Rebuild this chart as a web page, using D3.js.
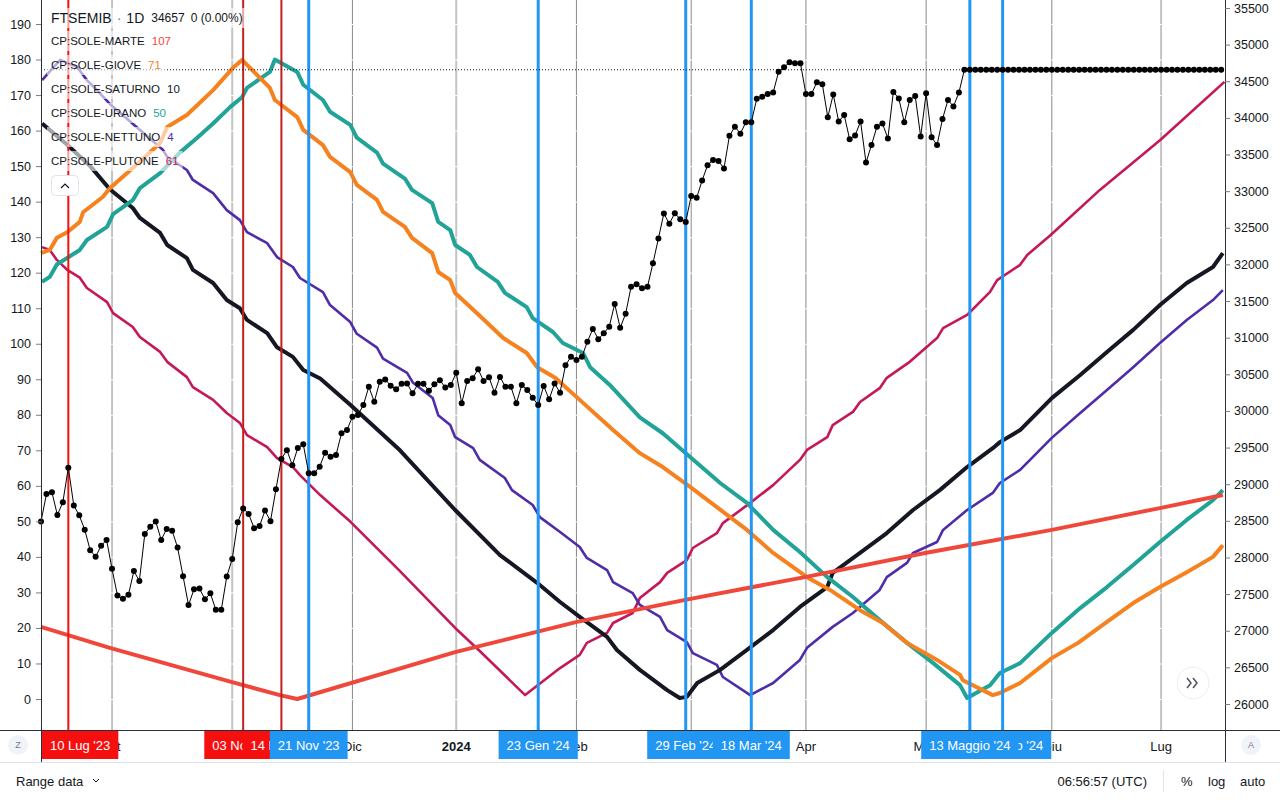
<!DOCTYPE html>
<html>
<head>
<meta charset="utf-8">
<script src="https://cdn.jsdelivr.net/npm/d3@7"></script>
<style>
  body { margin: 0; background: #fff; }
  svg { display: block; font-family: 'Liberation Sans', Arial, sans-serif; }
</style>
</head>
<body>
<svg id="chart" width="1280" height="800"></svg>
<script>
// ---- DATA ----
// x is the bar index (one bar per trading day), 0 = first bar on the chart
const monthBars   = [13, 35, 57, 76, 98, 119, 140, 162, 185, 205];
const monthLabels = ['Ott', 'Nov', 'Dic', '2024', 'Feb', 'Mar', 'Apr', 'Mag', 'Giu', 'Lug'];
const monthLight  = [false, true, false, true, false, false, false, false, false, true];

const degTicks   = [0, 10, 20, 30, 40, 50, 60, 70, 80, 90, 100, 110, 120, 130, 140, 150, 160, 170, 180, 190];
const priceTicks = [26000, 26500, 27000, 27500, 28000, 28500, 29000, 29500, 30000, 30500, 31000,
                    31500, 32000, 32500, 33000, 33500, 34000, 34500, 35000, 35500];

// vertical date lines (drawing order = stacking order of the labels)
const markerBars   = [5, 37, 44, 49, 91, 118, 130, 176, 170];
const markerLabels = ["10 Lug '23", "03 Nov '23", "14 Nov '23", "21 Nov '23", "23 Gen '24",
                      "29 Feb '24", "18 Mar '24", "21 Maggio '24", "13 Maggio '24"];
const markerKind   = ['red', 'darkred', 'darkred', 'blue', 'blue', 'blue', 'blue', 'blue', 'blue'];

// FTSEMIB daily close
const closes = [
  28490, 28865, 28890, 28580, 28755, 29225, 28710, 28575, 28380, 28100,
  28010, 28160, 28240, 27845, 27480, 27435, 27490, 27815, 27680, 28320,
  28420, 28490, 28240, 28390, 28365, 28135, 27745, 27350, 27565, 27575,
  27430, 27510, 27285, 27285, 27740, 27980, 28480, 28670, 28595, 28400,
  28430, 28640, 28495, 28930, 29345, 29465, 29260, 29495, 29545, 29150,
  29150, 29240,
  29430, 29375, 29400, 29695, 29740, 29920, 29945, 30080, 30330, 30125,
  30400, 30430, 30345, 30295, 30370, 30375, 30240, 30370, 30370, 30275,
  30365, 30420, 30320, 30355, 30520, 30105, 30410, 30445, 30570, 30410,
  30460, 30250, 30465, 30330, 30330, 30105, 30355, 30285, 30180, 30080,
  30340, 30160, 30375, 30250, 30625, 30740, 30695, 30740, 30945,
  31120, 30980, 31060, 31150, 31460, 31135, 31325, 31695, 31730, 31675,
  31695, 32015, 32355, 32695, 32555, 32700, 32615, 32580, 32935, 32910,
  33145, 33355, 33425, 33410, 33310, 33755, 33880, 33785, 33940, 33940,
  34260, 34290, 34325, 34345, 34630, 34690, 34760, 34745, 34745, 34325,
  34325, 34485, 34460, 34010, 34320, 33950, 34040, 33710, 33760, 33950,
  33390, 33630, 33880, 33925, 33720, 34355, 34265, 33940, 34245, 34300,
  33745, 34335, 33735, 33630, 33985, 34245, 34155, 34345, 34657
];
// bars after the last session repeat the last close
const projectedCloses = [
  34657, 34657, 34657, 34657, 34657, 34657, 34657, 34657, 34657, 34657,
  34657, 34657, 34657, 34657, 34657, 34657, 34657, 34657, 34657, 34657,
  34657, 34657, 34657, 34657, 34657, 34657, 34657, 34657, 34657, 34657,
  34657, 34657, 34657, 34657, 34657, 34657, 34657, 34657, 34657, 34657,
  34657, 34657, 34657, 34657, 34657, 34657, 34657
];
const lastClose = 34657;

// CP:SOLE-x angles, [bar, degrees]
const marte = [[0,20.3],[12.6,14.4],[34.8,4.8],[43.7,1.1],[46.9,0],[75.8,13.2],[98.1,21.7],
  [117.9,27.9],[139.8,34.3],[161.8,41.1],[185,47.6],[205,53.8],[216.3,57.4]];

const giove = [[0,125.5],[1.6,126.4],[2.9,129.8],[4.8,131.4],[7.1,134.3],[7.7,137],[11.3,141.3],
  [12.6,143.8],[16.8,149.5],[21.8,156.5],[23.1,161],[26.7,164.4],[31.5,171.4],[35.1,177.6],
  [36.8,179.9],[41.9,172],[42.8,168.6],[46.9,163.8],[48,160.2],[51.6,155.9],[52.9,152.6],
  [56.6,148.3],[57.8,144.7],[61.5,140.5],[62.6,137.1],[66.6,132.9],[67.9,129.8],[71.6,125.5],
  [72.7,120.2],[74.9,117.9],[75.8,114.3],[79.8,108.6],[84.6,101.6],[88.9,97.4],[90.8,93.4],
  [94.1,90.4],[98.6,84.2],[104.7,75.7],[109.6,69.2],[113.8,65.3],[118.8,59.7],[123.7,54],
  [129.2,47.6],[134,41.1],[140.2,34.3],[144.4,30.7],[149.9,25],[154.1,21.4],[158.5,15.8],
  [164,11],[168.2,6.8],[168.7,5.3],[174.2,1.1],[175.5,1.7],[179.2,4.5],[185,11.5],[189.8,15.8],
  [195.1,21.7],[199.9,27],[204.8,31.5],[209.7,35.7],[214.5,40],[216.3,43.3]];

const saturno = [[0.2,162],[4.8,156],[9,150],[12.6,143.5],[16.8,138.2],[18.1,135.4],[21.8,131.2],
  [23.1,127.8],[26.7,124.1],[27.8,120.8],[31.5,117.1],[34,112.3],[36.4,110],[37.7,106.7],
  [41.4,103],[43.2,99],[46.1,96.3],[48,92.6],[51.1,90.2],[56.7,82.7],[65.7,70],[75.8,53.2],
  [84,40.5],[90.8,32.7],[95,27.3],[98.6,23.1],[103.6,17.5],[105.4,13.8],[109.6,8.2],[114.6,2.5],
  [116.9,0.3],[118.2,0.6],[120.1,4.5],[124.3,8.2],[129.2,13.8],[134,19.4],[138.9,25.9],
  [143.9,31.5],[144.9,35.5],[149.9,41.1],[154.8,46.7],[159.6,53.2],[164.5,58.8],[169.5,65.3],
  [174.2,70.6],[175.5,72.3],[179.2,75.7],[185,84.7],[190.2,91.2],[195.1,97.7],[199.9,103.9],
  [204.8,110.9],[209.7,117.1],[214.5,121.6],[216.3,125.5]];

const urano = [[0.2,117.4],[1.6,118.8],[2.9,122.3],[7.1,126.4],[8.4,129.2],[12.1,132.9],[13.2,136.5],
  [16.8,140.4],[18.1,143.8],[21.8,148],[25.4,153.8],[28.6,158],[31.5,162],[34.6,166.6],[36.8,169.4],
  [37.7,172],[41.9,176.5],[42.8,180],[46.9,176.5],[48,172.9],[51.6,168.6],[52.9,165.3],[56.6,161.6],
  [57.8,158],[61.5,153.8],[62.6,150.7],[66.6,146.5],[67.9,143.3],[71.6,139.6],[72.7,134.3],
  [74.9,132],[75.8,127.8],[78.5,125],[79.8,121.6],[83.6,117.4],[84.9,114.3],[88.9,110.3],
  [90,107.2],[93.7,103.3],[95.5,100.2],[99.2,97.4],[100.5,93.4],[104.1,88.4],[109.6,79.3],
  [113.8,74.8],[118.8,68.1],[124.3,60.8],[129.2,55.2],[134,47.6],[138.9,41.4],[143.9,34.3],
  [148.6,28.7],[153.5,22.2],[158.5,15.8],[163.3,10.1],[168.2,3.9],[169.5,0.3],[173.7,3.9],
  [175.5,7.3],[179.2,10.1],[185,18.6],[190.2,25.6],[195.1,31.5],[199.9,37.7],[204.8,44.2],
  [209.7,50.4],[214.5,56],[216.3,58.8]];

const nettuno = [[0.2,174.2],[3.5,179.9],[6.6,177.9],[8.4,174.2],[10.8,170.5],[12.6,167.5],
  [22.3,154.6],[23.1,152.6],[26.7,148.9],[27.8,146.1],[31.5,142.4],[34,137.6],[36.4,134.8],
  [37.7,131.4],[41.4,128.3],[43.2,124.4],[46.1,121.6],[47.4,118.5],[51.6,114.5],[52.9,110.9],
  [56.6,106.1],[57.8,102.8],[61.5,98.9],[62.6,95.8],[67,91.8],[68.1,89],[71.7,84.7],[72.7,79.9],
  [74.9,77.1],[75.8,73.7],[79.1,70.6],[80.3,67.3],[84.9,62.2],[86.2,58.8],[90,54.6],[91.3,51.2],
  [95,47],[98.6,42.8],[99.9,39.7],[103.6,36.3],[104.7,32.9],[108.3,29.8],[109.6,26.5],[113.3,23.1],
  [114.6,19.4],[118.2,16],[119.3,12.9],[123.7,9.6],[124.8,6.2],[129.8,1.1],[134,4.5],[138.9,11],
  [140.2,14.4],[144.9,20.3],[148.6,24.2],[153.5,30.7],[154.8,34.3],[158.5,38.3],[159.6,41.1],
  [164,44.2],[165.1,47.6],[169.5,53.2],[174.2,58],[175.5,60.8],[179.2,64.5],[185,73.5],
  [190.2,80.5],[195.1,87],[199.9,93.4],[204.8,100.2],[209.7,106.7],[214.5,112.3],[216.3,115.1]];

const plutone = [[0.2,127.2],[1.6,126.4],[2.9,123.6],[4.8,120.8],[7.1,118.6],[8.4,115.7],[12.1,111.7],
  [13.2,108.6],[16.8,104.7],[18.1,101.9],[21.8,97.7],[23.1,94.9],[26.7,90.6],[27.8,87.8],[31.5,84.2],
  [34,80.5],[36.4,77.7],[37.7,74.3],[41.4,70.9],[43.2,67.8],[46.1,65.3],[47.4,63],[51.1,57.4],
  [56.7,49.8],[65.7,36],[75.8,20],[80.3,13.5],[88.6,1.1],[95,8.7],[98.6,12.4],[99.9,15.8],
  [103.6,18.6],[104.7,21.4],[108.3,24.2],[109.6,28.4],[113.3,32.9],[114.6,35.5],[118.2,39.1],
  [119.3,42.5],[123.7,46.7],[124.8,49.5],[129.8,55.2],[134,60.2],[138.9,67.3],[140.2,70.1],
  [143.9,73.7],[144.9,77.1],[148.6,80.8],[149.9,83.6],[153.5,87.5],[154.8,90.4],[159,94.9],
  [164,101.6],[165.1,104.4],[169.5,108.1],[173.7,114.6],[175,117.9],[179.2,122.2],[180.5,125],
  [184.8,130.6],[193.8,143.3],[204.8,157.3],[216.6,173.7]];

const seriesNames  = ['MARTE', 'GIOVE', 'SATURNO', 'URANO', 'NETTUNO', 'PLUTONE'];
const seriesLegend = ['107', '71', '10', '50', '4', '61'];

// ---- STYLE ----
const colors = {
  MARTE: '#f0473b', GIOVE: '#f5821f', SATURNO: '#151822',
  URANO: '#22a398', NETTUNO: '#4f2ca8', PLUTONE: '#c4185a'
};
const widths = { MARTE: 4, GIOVE: 4, SATURNO: 4, URANO: 4, NETTUNO: 2.6, PLUTONE: 2.6 };
const markerColor = { red: '#f50f0f', darkred: '#c21f1f', blue: '#2196f3' };
const boxColor = { red: '#f50f0f', darkred: '#f50f0f', blue: '#2196f3' };

const plotLeft = 41, plotRight = 1225, plotBottom = 730;

const svg = d3.select('#chart');
svg.append('rect').attr('width', 1280).attr('height', 800).attr('fill', '#fff');

const x = d3.scaleLinear().domain([0, 216.7]).range([plotLeft, plotRight]);
const yDeg = d3.scaleLinear().domain([0, 190]).range([699, 24]);
const yPrice = d3.scaleLinear().domain([26000, 35500]).range([704, 8]);

const plot = svg.append('g').attr('class', 'plot');

// month grid
plot.append('g').selectAll('line')
  .data(monthBars)
  .enter().append('line')
  .attr('x1', d => x(d)).attr('x2', d => x(d))
  .attr('y1', 0).attr('y2', plotBottom)
  .attr('stroke', (d, i) => monthLight[i] ? '#c4c4c4' : '#8a8a8a')
  .attr('stroke-width', (d, i) => monthLight[i] ? 2 : 1);

// faint horizontal grid (white, only visible where it cuts the month lines)
plot.append('g').selectAll('line')
  .data(degTicks)
  .enter().append('line')
  .attr('x1', plotLeft).attr('x2', plotRight)
  .attr('y1', d => yDeg(d) + 0.5).attr('y2', d => yDeg(d) + 0.5)
  .attr('stroke', '#fff').attr('stroke-width', 1);

// astro lines
const astro = { MARTE: marte, GIOVE: giove, SATURNO: saturno, URANO: urano, NETTUNO: nettuno, PLUTONE: plutone };
const astroLine = d3.line().x(d => x(d[0])).y(d => yDeg(d[1]));
['PLUTONE', 'NETTUNO', 'SATURNO', 'URANO', 'GIOVE', 'MARTE'].forEach(name => {
  plot.append('path')
    .datum(astro[name])
    .attr('d', astroLine)
    .attr('fill', 'none')
    .attr('stroke', colors[name])
    .attr('stroke-width', widths[name])
    .attr('stroke-linejoin', 'round');
});

// date markers
plot.append('g').selectAll('line')
  .data(markerBars)
  .enter().append('line')
  .attr('x1', d => x(d)).attr('x2', d => x(d))
  .attr('y1', 0).attr('y2', plotBottom)
  .attr('stroke', (d, i) => markerColor[markerKind[i]])
  .attr('stroke-width', (d, i) => markerKind[i] === 'blue' ? 3 : 2);

// last price dotted line
plot.append('line')
  .attr('x1', plotLeft).attr('x2', plotRight)
  .attr('y1', yPrice(lastClose)).attr('y2', yPrice(lastClose))
  .attr('stroke', '#131722').attr('stroke-width', 1)
  .attr('stroke-dasharray', '1,2');

// price
const allCloses = closes.concat(projectedCloses);
plot.append('path')
  .datum(allCloses)
  .attr('d', d3.line().x((d, i) => x(i)).y(d => yPrice(d)))
  .attr('fill', 'none')
  .attr('stroke', '#000')
  .attr('stroke-width', 1);
plot.append('g').selectAll('circle')
  .data(allCloses)
  .enter().append('circle')
  .attr('cx', (d, i) => x(i))
  .attr('cy', d => yPrice(d))
  .attr('r', 3)
  .attr('fill', '#000');

// plot frame
svg.append('line').attr('x1', plotLeft + 0.5).attr('x2', plotLeft + 0.5)
  .attr('y1', 0).attr('y2', 762).attr('stroke', '#2a2e39');
svg.append('line').attr('x1', plotRight + 0.5).attr('x2', plotRight + 0.5)
  .attr('y1', 0).attr('y2', 762).attr('stroke', '#2a2e39');
svg.append('line').attr('x1', 0).attr('x2', 1280)
  .attr('y1', plotBottom + 0.5).attr('y2', plotBottom + 0.5).attr('stroke', '#2a2e39');
svg.append('line').attr('x1', 0).attr('x2', 1280)
  .attr('y1', 762.5).attr('y2', 762.5).attr('stroke', '#e0e3eb');

// ---- LEGEND ----
const legend = svg.append('g').attr('class', 'legend');

function legendRow(y, parts) {
  const row = legend.append('g');
  const bg = row.append('rect');
  let cx = 51;
  parts.forEach(p => {
    const t = row.append('text')
      .attr('x', cx).attr('y', y)
      .attr('dy', '0.35em')
      .attr('font-size', p.size)
      .attr('fill', p.color)
      .text(p.text);
    cx += t.node().getComputedTextLength() + p.gap;
  });
  bg.attr('x', 47).attr('y', y - 10).attr('width', cx - 47).attr('height', 20)
    .attr('fill', '#fff').attr('fill-opacity', 0.6);
}

legendRow(18, [
  { text: 'FTSEMIB', size: 14, color: '#131722', gap: 5 },
  { text: '·', size: 14, color: '#787b86', gap: 5 },
  { text: '1D', size: 14, color: '#131722', gap: 7 },
  { text: '34657', size: 12, color: '#131722', gap: 6 },
  { text: '0 (0.00%)', size: 12, color: '#131722', gap: 4 }
]);
seriesNames.forEach((name, i) => {
  legendRow(41 + i * 24, [
    { text: 'CP:SOLE-' + name, size: 11.5, color: '#131722', gap: 7 },
    { text: seriesLegend[i], size: 11.5, color: colors[name] === '#151822' ? '#131722' : colors[name], gap: 4 }
  ]);
});
legend.append('rect')
  .attr('x', 51.5).attr('y', 175.5).attr('width', 27).attr('height', 20).attr('rx', 4)
  .attr('fill', '#fff').attr('stroke', '#e0e3eb');
legend.append('path')
  .attr('d', 'M61,188 L65,184 L69,188')
  .attr('fill', 'none').attr('stroke', '#131722').attr('stroke-width', 1.2);

// ---- AXES ----
const leftAxis = d3.axisLeft(yDeg).tickValues(degTicks).tickSize(5).tickPadding(5);
const gl = svg.append('g').attr('transform', `translate(${plotLeft},0)`).call(leftAxis);
gl.select('.domain').remove();
gl.selectAll('.tick line').attr('stroke', '#787b86');
gl.selectAll('.tick text').attr('font-size', 12.5).attr('fill', '#131722')
  .attr('font-family', "'Liberation Sans', Arial, sans-serif");

const rightAxis = d3.axisRight(yPrice).tickValues(priceTicks).tickSize(5).tickPadding(4)
  .tickFormat(d3.format('d'));
const gr = svg.append('g').attr('transform', `translate(${plotRight},0)`).call(rightAxis);
gr.select('.domain').remove();
gr.selectAll('.tick line').attr('stroke', '#787b86');
gr.selectAll('.tick text').attr('font-size', 12.5).attr('fill', '#131722')
  .attr('font-family', "'Liberation Sans', Arial, sans-serif");

// time axis labels
const timeAxis = svg.append('g').attr('class', 'time-axis');
timeAxis.selectAll('text')
  .data(monthBars)
  .enter().append('text')
  .attr('x', d => x(d)).attr('y', 746)
  .attr('dy', '0.35em')
  .attr('text-anchor', 'middle')
  .attr('font-size', 13)
  .attr('font-weight', (d, i) => monthLabels[i] === '2024' ? 'bold' : 'normal')
  .attr('fill', '#131722')
  .text((d, i) => monthLabels[i]);

// marker labels
markerBars.forEach((b, i) => {
  const g = timeAxis.append('g');
  const bg = g.append('rect');
  const t = g.append('text')
    .attr('y', 745).attr('dy', '0.35em')
    .attr('font-size', 13).attr('fill', '#fff')
    .text(markerLabels[i]);
  const w = t.node().getComputedTextLength() + 16;
  const left = Math.max(plotLeft + 1, x(b) - w / 2);
  bg.attr('x', left).attr('y', 731).attr('width', w).attr('height', 28)
    .attr('fill', boxColor[markerKind[i]]);
  t.attr('x', left + 8);
});

// Z / A buttons
[[18, 'Z'], [1251, 'A']].forEach(([cx, label]) => {
  svg.append('circle').attr('cx', cx).attr('cy', 745).attr('r', 10).attr('fill', '#f0f3fa');
  svg.append('text').attr('x', cx).attr('y', 745).attr('dy', '0.35em')
    .attr('text-anchor', 'middle').attr('font-size', 9).attr('fill', '#787b86').text(label);
});

// scroll button
svg.append('circle').attr('cx', 1193).attr('cy', 683).attr('r', 16)
  .attr('fill', '#fff').attr('stroke', '#eceef2');
svg.append('path').attr('d', 'M1187,678 L1191,683 L1187,688 M1193,678 L1197,683 L1193,688')
  .attr('fill', 'none').attr('stroke', '#50535e').attr('stroke-width', 1.5);

// ---- BOTTOM TOOLBAR ----
const bar = svg.append('g').attr('font-size', 13).attr('fill', '#131722');
bar.append('text').attr('x', 16).attr('y', 781).attr('dy', '0.35em').text('Range data');
bar.append('path').attr('d', 'M93,779 L96,782 L99,779').attr('fill', 'none')
  .attr('stroke', '#131722').attr('stroke-width', 1);
bar.append('text').attr('x', 1147).attr('y', 781).attr('dy', '0.35em')
  .attr('text-anchor', 'end').text('06:56:57 (UTC)');
bar.append('line').attr('x1', 1163.5).attr('x2', 1163.5).attr('y1', 770).attr('y2', 792)
  .attr('stroke', '#e0e3eb');
bar.append('text').attr('x', 1181).attr('y', 781).attr('dy', '0.35em').text('%');
bar.append('text').attr('x', 1208).attr('y', 781).attr('dy', '0.35em').text('log');
bar.append('text').attr('x', 1240).attr('y', 781).attr('dy', '0.35em').text('auto');
</script>
</body>
</html>
